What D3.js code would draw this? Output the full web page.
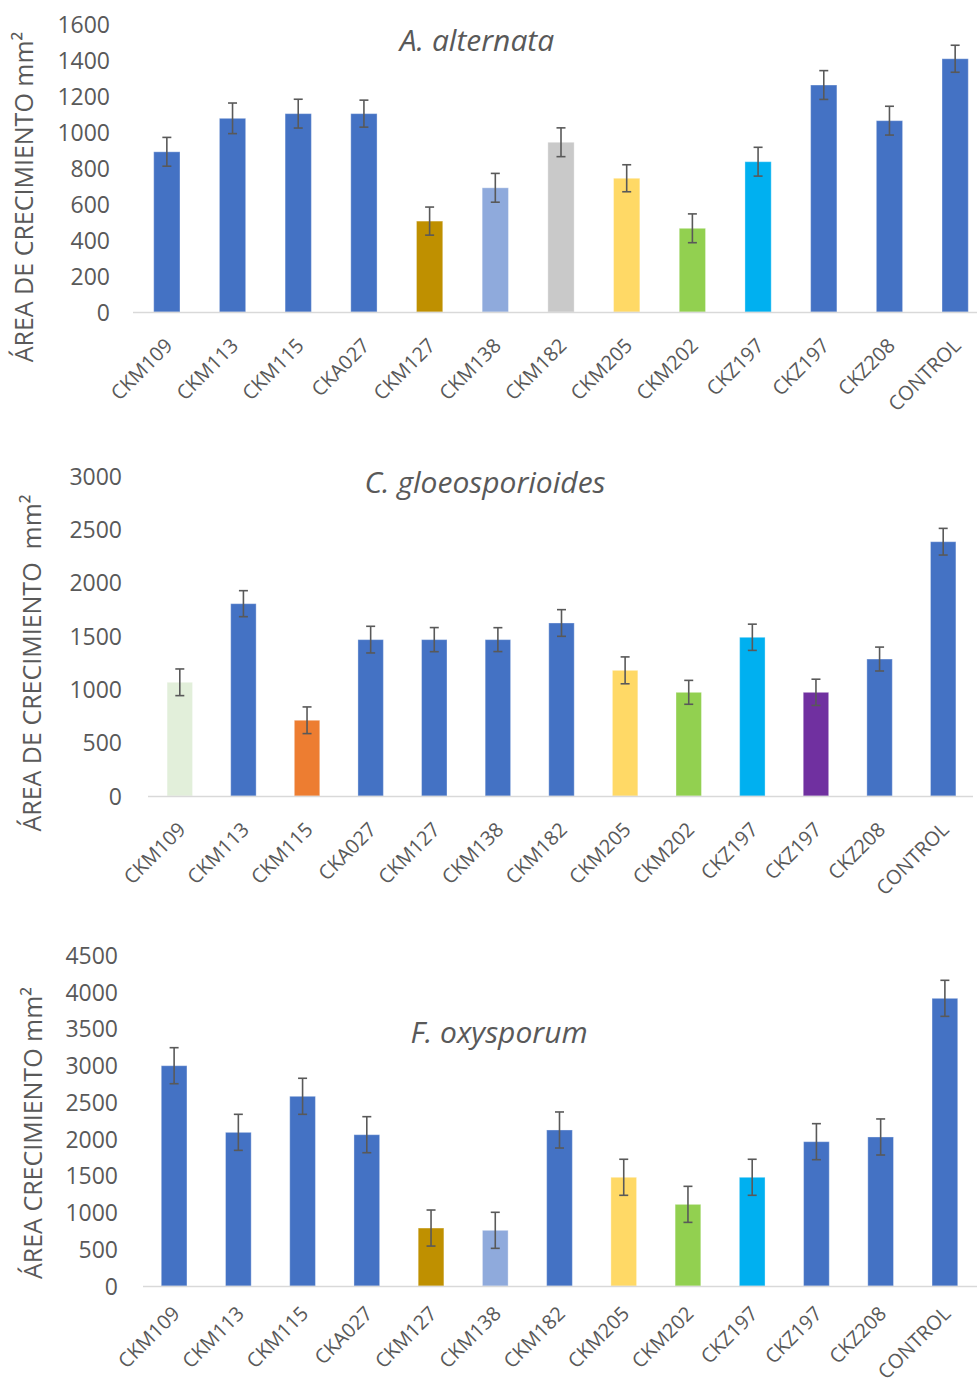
<!DOCTYPE html>
<html>
<head>
<meta charset="utf-8">
<script src="https://cdn.jsdelivr.net/npm/d3@7"></script>
<style>
  html, body { margin: 0; padding: 0; background: #ffffff; }
  svg { display: block; }
  text { font-family: "Open Sans", "Noto Sans", sans-serif; fill: #595959; }
</style>
</head>
<body>
<svg id="chart" width="977" height="1385"></svg>
<script>
// Strain labels (shared by the three panels)
const categories = ["CKM109", "CKM113", "CKM115", "CKA027", "CKM127", "CKM138", "CKM182",
                    "CKM205", "CKM202", "CKZ197", "CKZ197", "CKZ208", "CONTROL"];

// A. alternata — growth area (mm²) and error
const alternataValues = [890, 1076, 1102, 1102, 505, 690, 943, 743, 465, 835, 1261, 1063, 1407];
const alternataErrors = [80, 85, 80, 75, 78, 80, 80, 75, 80, 80, 80, 80, 75];
const alternataTicks  = [0, 200, 400, 600, 800, 1000, 1200, 1400, 1600];

// C. gloeosporioides — growth area (mm²) and error
const gloeoValues = [1066, 1803, 710, 1466, 1466, 1466, 1622, 1178, 972, 1488, 972, 1284, 2384];
const gloeoErrors = [125, 122, 125, 125, 113, 112, 125, 126, 112, 123, 123, 112, 125];
const gloeoTicks  = [0, 500, 1000, 1500, 2000, 2500, 3000];

// F. oxysporum — growth area (mm²) and error
const oxyValues = [2995, 2089, 2579, 2057, 788, 757, 2121, 1478, 1110, 1478, 1962, 2026, 3911];
const oxyErrors = [245, 245, 245, 245, 245, 245, 245, 245, 245, 245, 245, 245, 245];
const oxyTicks  = [0, 500, 1000, 1500, 2000, 2500, 3000, 3500, 4000, 4500];

// Palette
const BLUE = "#4472C4", GOLD = "#BF9000", LIGHTBLUE = "#8FAADC", GREY = "#C9C9C9",
      YELLOW = "#FFD966", GREEN = "#92D050", CYAN = "#00B0F0", PALEGREEN = "#E2EFDA",
      ORANGE = "#ED7D31", PURPLE = "#7030A0";

const alternataColors = [BLUE, BLUE, BLUE, BLUE, GOLD, LIGHTBLUE, GREY, YELLOW, GREEN, CYAN, BLUE, BLUE, BLUE];
const gloeoColors     = [PALEGREEN, BLUE, ORANGE, BLUE, BLUE, BLUE, BLUE, YELLOW, GREEN, CYAN, PURPLE, BLUE, BLUE];
const oxyColors       = [BLUE, BLUE, BLUE, BLUE, GOLD, LIGHTBLUE, BLUE, YELLOW, GREEN, CYAN, BLUE, BLUE, BLUE];

// Panel layout (pixel geometry of each plot)
const panels = [
  { title: "A. alternata", yLabel: "ÁREA DE CRECIMIENTO mm²",
    values: alternataValues, errors: alternataErrors, colors: alternataColors, ticks: alternataTicks,
    y0: 312, yTop: 24, x0: 134, x1: 988, axisX0: 133, axisX1: 977, tickX: 110,
    labelX: 24, labelY: 197, titleX: 477, titleY: 51, catOffset: 30 },
  { title: "C. gloeosporioides", yLabel: "ÁREA DE CRECIMIENTO  mm²",
    values: gloeoValues, errors: gloeoErrors, colors: gloeoColors, ticks: gloeoTicks,
    y0: 796, yTop: 476, x0: 148, x1: 975, axisX0: 148, axisX1: 973, tickX: 122,
    labelX: 32, labelY: 663, titleX: 485, titleY: 493, catOffset: 30 },
  { title: "F. oxysporum", yLabel: "ÁREA CRECIMIENTO mm²",
    values: oxyValues, errors: oxyErrors, colors: oxyColors, ticks: oxyTicks,
    y0: 1286, yTop: 955, x0: 142, x1: 977, axisX0: 143, axisX1: 977, tickX: 118,
    labelX: 33, labelY: 1133, titleX: 499, titleY: 1043, catOffset: 24 }
];

const svg = d3.select("#chart");

panels.forEach(p => {
  const g = svg.append("g");
  const idx = d3.range(categories.length);

  const x = d3.scaleBand().domain(idx).range([p.x0, p.x1]).paddingInner(0.6).paddingOuter(0.3);
  const y = d3.scaleLinear()
    .domain([0, p.ticks[p.ticks.length - 1]])
    .range([p.y0, p.yTop]);

  // Bars
  g.selectAll("rect.bar").data(idx).join("rect")
    .attr("class", "bar")
    .attr("x", i => x(i))
    .attr("width", x.bandwidth())
    .attr("y", i => y(p.values[i]))
    .attr("height", i => y(0) - y(p.values[i]))
    .attr("fill", i => p.colors[i])
    .attr("stroke", "rgba(255,255,255,0.35)")
    .attr("stroke-width", 1);

  // Baseline
  g.append("line")
    .attr("x1", p.axisX0).attr("x2", p.axisX1)
    .attr("y1", y(0) + 0.5).attr("y2", y(0) + 0.5)
    .attr("stroke", "#D9D9D9").attr("stroke-width", 1.5);

  // Error bars
  const cap = 4.5;
  const eb = g.selectAll("g.err").data(idx).join("g").attr("class", "err")
    .attr("stroke", "#595959").attr("stroke-width", 1.6);
  eb.append("line")
    .attr("x1", i => x(i) + x.bandwidth() / 2).attr("x2", i => x(i) + x.bandwidth() / 2)
    .attr("y1", i => y(p.values[i] + p.errors[i])).attr("y2", i => y(p.values[i] - p.errors[i]));
  eb.append("line")
    .attr("x1", i => x(i) + x.bandwidth() / 2 - cap).attr("x2", i => x(i) + x.bandwidth() / 2 + cap)
    .attr("y1", i => y(p.values[i] + p.errors[i])).attr("y2", i => y(p.values[i] + p.errors[i]));
  eb.append("line")
    .attr("x1", i => x(i) + x.bandwidth() / 2 - cap).attr("x2", i => x(i) + x.bandwidth() / 2 + cap)
    .attr("y1", i => y(p.values[i] - p.errors[i])).attr("y2", i => y(p.values[i] - p.errors[i]));

  // Y axis tick labels
  const yAxis = d3.axisLeft(y).tickValues(p.ticks).tickSize(0).tickPadding(0).tickFormat(d3.format("d"));
  const ya = g.append("g").attr("transform", `translate(${p.tickX},0)`).call(yAxis);
  ya.select(".domain").remove();
  ya.selectAll("text")
    .attr("font-size", 23)
    .attr("font-family", "Open Sans")
    .attr("fill", "#595959")
    .attr("dy", "0.36em");

  // X axis category labels, rotated
  const xAxis = d3.axisBottom(x).tickSize(0).tickFormat(i => categories[i]);
  const xa = g.append("g").attr("transform", `translate(0,${p.y0})`).call(xAxis);
  xa.select(".domain").remove();
  xa.selectAll("text")
    .attr("font-size", 20)
    .attr("font-family", "Open Sans")
    .attr("fill", "#595959")
    .attr("text-anchor", "end")
    .attr("x", 0).attr("y", 0)
    .attr("dy", "0.35em")
    .attr("transform", `translate(2,${p.catOffset}) rotate(-45)`);

  // Y axis title
  g.append("text")
    .attr("transform", `translate(${p.labelX},${p.labelY}) rotate(-90)`)
    .attr("text-anchor", "middle")
    .attr("dy", "0.35em")
    .attr("font-size", 25)
    .style("white-space", "pre")
    .text(p.yLabel);

  // Panel title
  g.append("text")
    .attr("x", p.titleX).attr("y", p.titleY)
    .attr("text-anchor", "middle")
    .attr("font-size", 30)
    .attr("font-style", "italic")
    .text(p.title);
});
</script>
</body>
</html>
